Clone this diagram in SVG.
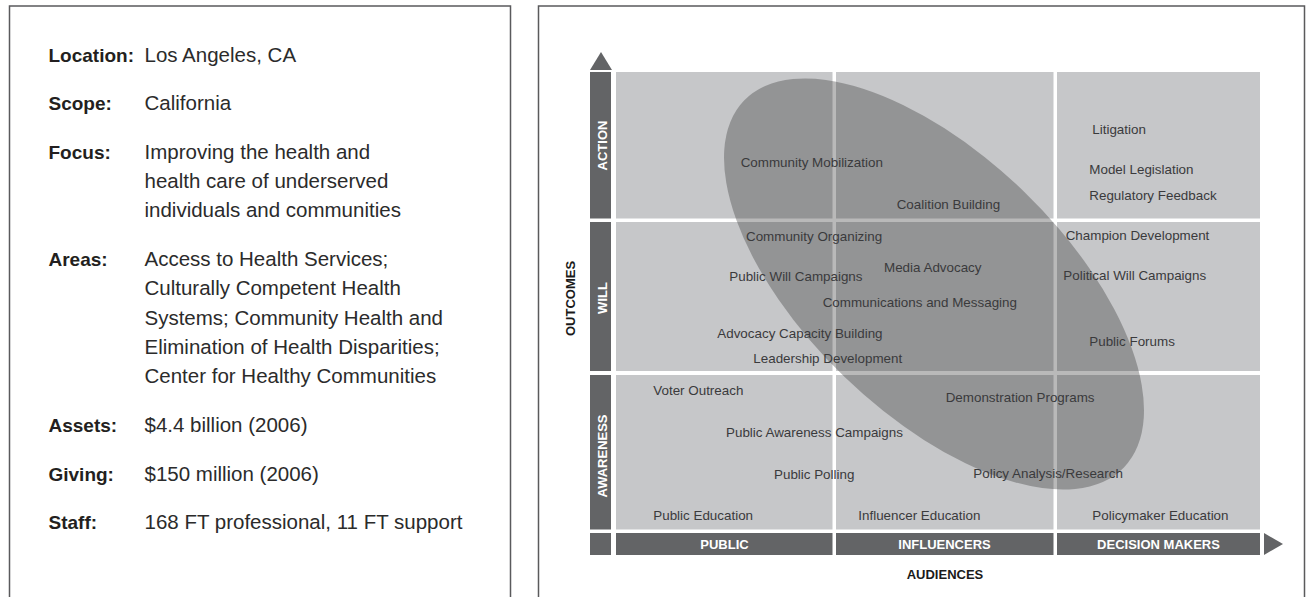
<svg xmlns="http://www.w3.org/2000/svg" width="1306" height="597" viewBox="0 0 1306 597">
<style>
.panel{fill:#fff;stroke:#5a5a5c;stroke-width:1.5}
.lbl{font-family:"Liberation Sans",Arial,sans-serif;font-weight:bold;font-size:19px;fill:#231f20}
.val{font-family:"Liberation Sans",Arial,sans-serif;font-size:20.5px;fill:#2b2b2b}
.cell{fill:#c6c7c9}
.bar{fill:#636466}
.axl{font-family:"Liberation Sans",Arial,sans-serif;font-weight:bold;font-size:13px;fill:#fff;text-anchor:middle}
.axt{font-family:"Liberation Sans",Arial,sans-serif;font-weight:bold;font-size:13px;fill:#1a1a1a;text-anchor:middle}
.item{font-family:"Liberation Sans",Arial,sans-serif;font-size:13.4px;fill:#3a3a3c}
</style>
<rect width="1306" height="597" fill="#fff"/>
<g id="info-panel">
<path class="panel" d="M9.5 597 V6 H510.5 V597"/>
<text class="lbl" x="48.5" y="62">Location:</text><text class="val" x="144.5" y="62">Los Angeles, CA</text>
<text class="lbl" x="48.5" y="110">Scope:</text><text class="val" x="144.5" y="110">California</text>
<text class="lbl" x="48.5" y="159">Focus:</text>
<text class="val" x="144.5" y="159">Improving the health and</text>
<text class="val" x="144.5" y="188">health care of underserved</text>
<text class="val" x="144.5" y="217">individuals and communities</text>
<text class="lbl" x="48.5" y="266">Areas:</text>
<text class="val" x="144.5" y="266">Access to Health Services;</text>
<text class="val" x="144.5" y="295">Culturally Competent Health</text>
<text class="val" x="144.5" y="325">Systems; Community Health and</text>
<text class="val" x="144.5" y="354">Elimination of Health Disparities;</text>
<text class="val" x="144.5" y="383">Center for Healthy Communities</text>
<text class="lbl" x="48.5" y="432">Assets:</text><text class="val" x="144.5" y="432">$4.4 billion (2006)</text>
<text class="lbl" x="48.5" y="481">Giving:</text><text class="val" x="144.5" y="481">$150 million (2006)</text>
<text class="lbl" x="48.5" y="529">Staff:</text><text class="val" x="144.5" y="529">168 FT professional, 11 FT support</text>
</g>
<g id="chart-panel">
<path class="panel" d="M538.5 597 V6 H1304.5 V597"/>
</g>
<g id="grid">
<rect class="cell" x="616" y="72" width="216.5" height="146.5"/>
<rect class="cell" x="836" y="72" width="217.5" height="146.5"/>
<rect class="cell" x="1057" y="72" width="203" height="146.5"/>
<rect class="cell" x="616" y="222" width="216.5" height="149"/>
<rect class="cell" x="836" y="222" width="217.5" height="149"/>
<rect class="cell" x="1057" y="222" width="203" height="149"/>
<rect class="cell" x="616" y="375" width="216.5" height="154.5"/>
<rect class="cell" x="836" y="375" width="217.5" height="154.5"/>
<rect class="cell" x="1057" y="375" width="203" height="154.5"/>
</g>
<g id="focus-ellipse">
<ellipse cx="934" cy="284" rx="264" ry="129" transform="rotate(44 934 284)" fill="#313133" fill-opacity="0.34"/>
</g>
<g id="outcomes-axis">
<polygon class="bar" points="601,52 612,70 590,70"/>
<rect class="bar" x="590" y="72" width="21" height="146.5"/>
<rect class="bar" x="590" y="222" width="21" height="149"/>
<rect class="bar" x="590" y="375" width="21" height="154.5"/>
<text class="axl" transform="translate(607 145.5) rotate(-90)">ACTION</text>
<text class="axl" transform="translate(607 298) rotate(-90)">WILL</text>
<text class="axl" transform="translate(607 456) rotate(-90)">AWARENESS</text>
<text class="axt" transform="translate(575 298.5) rotate(-90)">OUTCOMES</text>
</g>
<g id="audiences-axis">
<rect class="bar" x="590" y="533" width="21" height="22"/>
<rect class="bar" x="616" y="533" width="216.5" height="22"/>
<rect class="bar" x="836" y="533" width="217.5" height="22"/>
<rect class="bar" x="1057" y="533" width="203" height="22"/>
<polygon class="bar" points="1264,533 1283,544 1264,555"/>
<text class="axl" x="724.5" y="549">PUBLIC</text>
<text class="axl" x="944.5" y="549">INFLUENCERS</text>
<text class="axl" x="1158.5" y="549">DECISION MAKERS</text>
<text class="axt" x="945" y="579">AUDIENCES</text>
</g>
<g id="items">
<text class="item" x="740.7" y="166.5">Community Mobilization</text>
<text class="item" x="896.7" y="208.5">Coalition Building</text>
<text class="item" x="1092.3" y="133.5">Litigation</text>
<text class="item" x="1089.3" y="174">Model Legislation</text>
<text class="item" x="1089.3" y="200">Regulatory Feedback</text>
<text class="item" x="746" y="240.5">Community Organizing</text>
<text class="item" x="1065.7" y="240">Champion Development</text>
<text class="item" x="729.3" y="280.5">Public Will Campaigns</text>
<text class="item" x="884" y="272">Media Advocacy</text>
<text class="item" x="1063.3" y="280">Political Will Campaigns</text>
<text class="item" x="822.7" y="306.5">Communications and Messaging</text>
<text class="item" x="717.3" y="337.5">Advocacy Capacity Building</text>
<text class="item" x="1089.3" y="345.5">Public Forums</text>
<text class="item" x="753.3" y="362.5">Leadership Development</text>
<text class="item" x="653.3" y="395">Voter Outreach</text>
<text class="item" x="945.7" y="402.3">Demonstration Programs</text>
<text class="item" x="726" y="436.7">Public Awareness Campaigns</text>
<text class="item" x="774" y="479">Public Polling</text>
<text class="item" x="973.3" y="478.3">Policy Analysis/Research</text>
<text class="item" x="653.3" y="520">Public Education</text>
<text class="item" x="858.3" y="520">Influencer Education</text>
<text class="item" x="1092.3" y="520">Policymaker Education</text>
</g>
</svg>
